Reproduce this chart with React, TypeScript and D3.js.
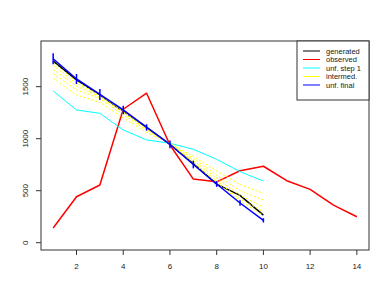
import React from 'react';
import * as d3 from 'd3';

// bins 1..10 for the unfolding, 1..14 for the observed spectrum
const bins = [1, 2, 3, 4, 5, 6, 7, 8, 9, 10];
const obsBins = [1, 2, 3, 4, 5, 6, 7, 8, 9, 10, 11, 12, 13, 14];

const generated = [1745, 1565, 1420, 1265, 1110, 945, 760, 563, 455, 265];
const observed = [142, 442, 555, 1283, 1437, 939, 612, 585, 692, 735, 596, 513, 362, 250];
const unfStep1 = [1459, 1276, 1244, 1084, 988, 956, 898, 802, 683, 593];
const intermed = [
  [1580, 1420, 1350, 1200, 1060, 955, 830, 690, 560, 475],
  [1625, 1470, 1385, 1230, 1080, 952, 810, 650, 500, 410],
  [1665, 1505, 1400, 1250, 1090, 950, 790, 620, 455, 345],
  [1705, 1530, 1410, 1262, 1098, 948, 775, 595, 420, 300],
  [1735, 1550, 1418, 1270, 1103, 947, 762, 578, 400, 265],
];
const unfFinal = [1768, 1574, 1425, 1276, 1108, 946, 752, 564, 382, 215];
const unfErr = [53, 48, 53, 40, 31, 37, 37, 27, 27, 21];

const xTicks = [2, 4, 6, 8, 10, 12, 14];
const yTicks = [0, 500, 1000, 1500];

const legendItems = [
  { label: 'generated', color: '#000000' },
  { label: 'observed', color: '#ff0000' },
  { label: 'unf. step 1', color: '#00ffff' },
  { label: 'intermed.', color: '#ffff00' },
  { label: 'unf. final', color: '#0000ff' },
];

const W = 390;
const H = 302;
const box = { left: 41, right: 369, top: 41, bottom: 250 };
const font = '"Liberation Sans", Arial, sans-serif';

export default function App() {
  const x = d3.scaleLinear().domain([0.48, 14.52]).range([box.left, box.right]);
  const y = d3.scaleLinear().domain([-70, 1939]).range([box.bottom, box.top]);

  const line = (xs: number[]) =>
    d3.line<number>()
      .x((_, i) => x(xs[i]))
      .y((d) => y(d));

  const lineB = line(bins);
  const lineO = line(obsBins);

  return (
    <svg width={W} height={H} style={{ position: 'absolute', left: 0, top: 0, background: '#fff' }}>
      <g fill="none" strokeLinejoin="round">
        <path d={lineB(generated) || ''} stroke="#000" strokeWidth={1.5} />
        <path d={lineO(observed) || ''} stroke="#ff0000" strokeWidth={1.5} />
        <path d={lineB(unfStep1) || ''} stroke="#00ffff" strokeWidth={1} />
        {intermed.map((s, k) => (
          <path key={k} d={lineB(s) || ''} stroke="#ffff00" strokeWidth={1} strokeDasharray="2,2" />
        ))}
        <path d={lineB(unfFinal) || ''} stroke="#0000ff" strokeWidth={1.5} />
        {bins.map((b, i) => (
          <line
            key={b}
            x1={x(b)}
            x2={x(b)}
            y1={y(unfFinal[i] - unfErr[i])}
            y2={y(unfFinal[i] + unfErr[i])}
            stroke="#0000ff"
            strokeWidth={1.5}
          />
        ))}
      </g>

      {/* frame */}
      <rect
        x={box.left}
        y={box.top}
        width={box.right - box.left}
        height={box.bottom - box.top}
        fill="none"
        stroke="#333"
        strokeWidth={1}
      />

      {/* x axis */}
      <g fontFamily={font} fontSize={8} fill="#222" textAnchor="middle">
        {xTicks.map((t) => (
          <g key={t}>
            <line x1={x(t)} x2={x(t)} y1={box.bottom} y2={box.bottom + 5} stroke="#333" />
            <text x={x(t)} y={269}>{t}</text>
          </g>
        ))}
      </g>

      {/* y axis, labels rotated like base R */}
      <g fontFamily={font} fontSize={8} fill="#222" textAnchor="middle">
        {yTicks.map((t) => (
          <g key={t}>
            <line x1={box.left - 5} x2={box.left} y1={y(t)} y2={y(t)} stroke="#333" />
            <text transform={`translate(28,${y(t)}) rotate(-90)`}>{t}</text>
          </g>
        ))}
      </g>

      {/* legend */}
      <g fontFamily={font} fontSize={7.5} fill="#222">
        <rect x={297} y={box.top} width={box.right - 297} height={59} fill="#fff" stroke="#333" />
        {legendItems.map((d, i) => {
          const ly = 51 + i * 8.5;
          return (
            <g key={d.label}>
              <line x1={303} x2={320} y1={ly} y2={ly} stroke={d.color} strokeWidth={1} />
              <text x={326} y={ly + 2.7}>{d.label}</text>
            </g>
          );
        })}
      </g>
    </svg>
  );
}
